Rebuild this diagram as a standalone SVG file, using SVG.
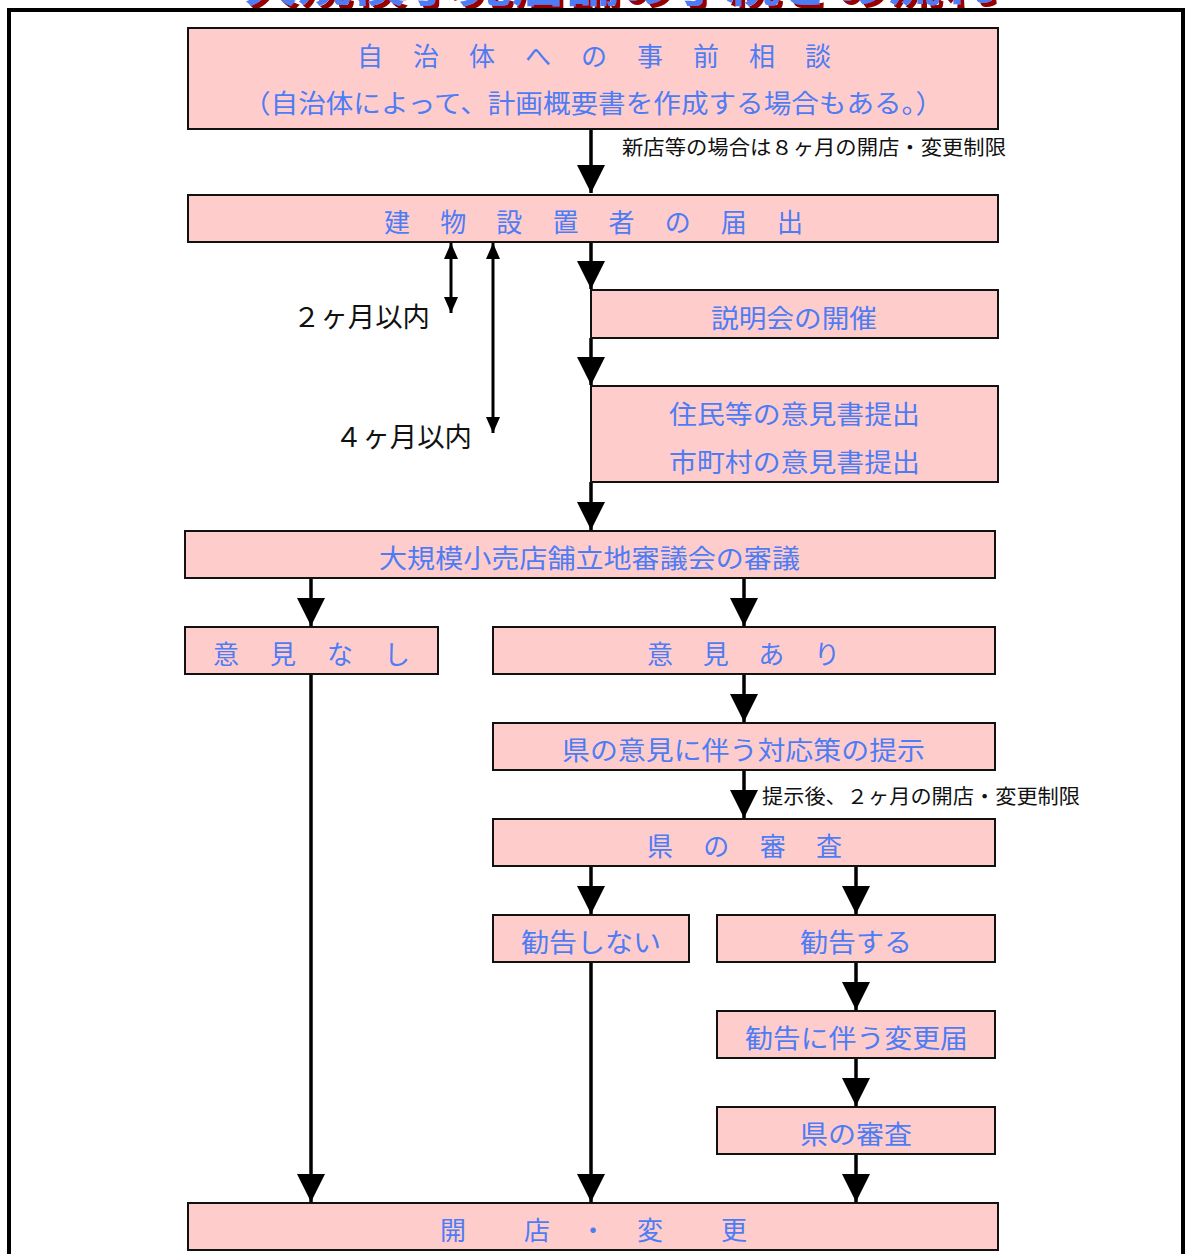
<svg xmlns="http://www.w3.org/2000/svg" width="1186" height="1254" viewBox="0 0 1186 1254">
<defs>
<style>
.box{fill:#ffcccc;stroke:#111;stroke-width:2}
.t{font-family:"Noto Sans CJK JP","Noto Sans",sans-serif;font-size:26px;fill:#4d7cf5}
.l{font-family:"Noto Sans CJK JP","Noto Sans",sans-serif;fill:#111}
.c{stroke:#000;stroke-width:3.5;fill:none}
.s{stroke:#000;stroke-width:3;fill:none}
.title{font-family:"Noto Sans CJK JP",sans-serif;font-size:44px;font-weight:bold;fill:#4d7cf5}
</style>
<filter id="shadow" x="-5%" y="-50%" width="110%" height="200%">
<feDropShadow dx="4" dy="4" stdDeviation="0" flood-color="#990000"/>
</filter>
<marker id="ah" markerUnits="userSpaceOnUse" markerWidth="28" markerHeight="30" refX="28" refY="14" orient="auto" viewBox="0 0 28 28">
<path d="M0,0 L28,14 L0,28 Z" fill="#000"/>
</marker>
<marker id="sh" markerUnits="userSpaceOnUse" markerWidth="16" markerHeight="14" refX="16" refY="7" orient="auto" viewBox="0 0 16 14">
<path d="M0,0 L16,7 L0,14 Z" fill="#000"/>
</marker>
<marker id="shs" markerUnits="userSpaceOnUse" markerWidth="16" markerHeight="14" refX="16" refY="7" orient="auto-start-reverse" viewBox="0 0 16 14">
<path d="M0,0 L16,7 L0,14 Z" fill="#000"/>
</marker>
</defs>
<rect width="1186" height="1254" fill="#fff"/>
<g id="title">
<text class="title" x="244" y="2" filter="url(#shadow)" textLength="750" lengthAdjust="spacingAndGlyphs">大規模小売店舗の手続きの流れ</text>
</g>
<g id="frame">
<path d="M9,1254 V10 H1183 V1254" fill="none" stroke="#000" stroke-width="4"/>
</g>
<g id="connectors">
<path class="c" d="M591,129 V193" marker-end="url(#ah)"/>
<path class="c" d="M591,242 V289" marker-end="url(#ah)"/>
<path class="c" d="M591,338 V385" marker-end="url(#ah)"/>
<path class="c" d="M591,482 V530" marker-end="url(#ah)"/>
<path class="s" d="M451,243 V313" marker-start="url(#shs)" marker-end="url(#sh)"/>
<path class="s" d="M493,243 V433" marker-start="url(#shs)" marker-end="url(#sh)"/>
<path class="c" d="M311,578 V626" marker-end="url(#ah)"/>
<path class="c" d="M744,578 V626" marker-end="url(#ah)"/>
<path class="c" d="M744,674 V722" marker-end="url(#ah)"/>
<path class="c" d="M744,770 V818" marker-end="url(#ah)"/>
<path class="c" d="M591,866 V914" marker-end="url(#ah)"/>
<path class="c" d="M856,866 V914" marker-end="url(#ah)"/>
<path class="c" d="M856,962 V1010" marker-end="url(#ah)"/>
<path class="c" d="M856,1058 V1106" marker-end="url(#ah)"/>
<path class="c" d="M856,1154 V1202" marker-end="url(#ah)"/>
<path class="c" d="M311,674 V1202" marker-end="url(#ah)"/>
<path class="c" d="M591,962 V1202" marker-end="url(#ah)"/>
<text class="l" x="622" y="155" font-size="20" textLength="384" lengthAdjust="spacingAndGlyphs">新店等の場合は８ヶ月の開店・変更制限</text>
<text class="l" x="293" y="327" font-size="27" textLength="137" lengthAdjust="spacingAndGlyphs">２ヶ月以内</text>
<text class="l" x="335" y="447" font-size="27" textLength="137" lengthAdjust="spacingAndGlyphs">４ヶ月以内</text>
<text class="l" x="762" y="804" font-size="20" textLength="318" lengthAdjust="spacingAndGlyphs">提示後、２ヶ月の開店・変更制限</text>
</g>
<g id="n1">
<rect class="box" x="188" y="28" width="810" height="101"/>
<text class="t" x="357" y="66" textLength="474" lengthAdjust="spacing">自 治 体 へ の 事 前 相 談</text>
<text class="t" x="243" y="113" textLength="700" lengthAdjust="spacingAndGlyphs">（自治体によって、計画概要書を作成する場合もある。）</text>
</g>
<g id="n2">
<rect class="box" x="188" y="195" width="810" height="47"/>
<text class="t" x="384" y="232" textLength="419" lengthAdjust="spacing">建 物 設 置 者 の 届 出</text>
</g>
<g id="n3">
<rect class="box" x="591" y="290" width="407" height="48"/>
<text class="t" x="711" y="328" textLength="166" lengthAdjust="spacingAndGlyphs">説明会の開催</text>
</g>
<g id="n4">
<rect class="box" x="591" y="386" width="407" height="96"/>
<text class="t" x="669" y="424" textLength="251" lengthAdjust="spacingAndGlyphs">住民等の意見書提出</text>
<text class="t" x="669" y="472" textLength="251" lengthAdjust="spacingAndGlyphs">市町村の意見書提出</text>
</g>
<g id="n5">
<rect class="box" x="185" y="531" width="810" height="47"/>
<text class="t" x="379" y="568" textLength="421" lengthAdjust="spacingAndGlyphs">大規模小売店舗立地審議会の審議</text>
</g>
<g id="n6">
<rect class="box" x="185" y="627" width="253" height="47"/>
<text class="t" x="213" y="664" textLength="197" lengthAdjust="spacing">意 見 な し</text>
</g>
<g id="n7">
<rect class="box" x="493" y="627" width="502" height="47"/>
<text class="t" x="647" y="664" textLength="193" lengthAdjust="spacing">意 見 あ り</text>
</g>
<g id="n8">
<rect class="box" x="493" y="723" width="502" height="47"/>
<text class="t" x="562" y="760" textLength="363" lengthAdjust="spacingAndGlyphs">県の意見に伴う対応策の提示</text>
</g>
<g id="n9">
<rect class="box" x="493" y="819" width="502" height="47"/>
<text class="t" x="647" y="856" textLength="195" lengthAdjust="spacing">県 の 審 査</text>
</g>
<g id="n10">
<rect class="box" x="493" y="915" width="196" height="47"/>
<text class="t" x="521" y="952" textLength="140" lengthAdjust="spacingAndGlyphs">勧告しない</text>
</g>
<g id="n11">
<rect class="box" x="717" y="915" width="278" height="47"/>
<text class="t" x="800" y="952" textLength="112" lengthAdjust="spacingAndGlyphs">勧告する</text>
</g>
<g id="n12">
<rect class="box" x="717" y="1011" width="278" height="47"/>
<text class="t" x="745" y="1048" textLength="223" lengthAdjust="spacingAndGlyphs">勧告に伴う変更届</text>
</g>
<g id="n13">
<rect class="box" x="717" y="1107" width="278" height="47"/>
<text class="t" x="800" y="1144" textLength="112" lengthAdjust="spacingAndGlyphs">県の審査</text>
</g>
<g id="n14">
<rect class="box" x="188" y="1203" width="810" height="47"/>
<text class="t" x="440 524 580 637 721" y="1240">開店・変更</text>
</g>
</svg>
